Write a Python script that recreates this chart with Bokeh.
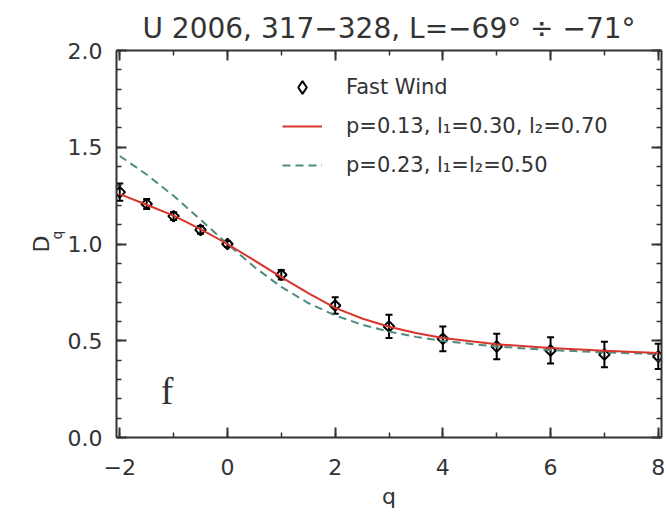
import numpy as np
from bokeh.plotting import figure
from bokeh.models import (Range1d, LinearAxis, SingleIntervalTicker, Label, Legend, LegendItem,
                          ColumnDataSource, Whisker, TeeHead, NumeralTickFormatter,
                          CustomJSTickFormatter, Title)
from bokeh.embed import file_html
from bokeh.resources import INLINE

# ---- data ----
title_text = "U 2006, 317\u2212328, L=\u221269\u00b0 \u00f7 \u221271\u00b0"
q_obs = [-2, -1.5, -1, -0.5, 0, 1, 2, 3, 4, 5, 6, 7, 8]
d_obs = [1.268, 1.207, 1.144, 1.073, 1.000, 0.841, 0.682, 0.574, 0.510, 0.470, 0.450, 0.429, 0.419]
d_err = [0.045, 0.026, 0.020, 0.020, 0.015, 0.025, 0.043, 0.060, 0.064, 0.066, 0.068, 0.066, 0.065]

q_fit = [-2, -1.5, -1, -0.5, 0, 0.5, 1, 1.5, 2, 2.5, 3, 3.5, 4, 5, 6, 7, 8]
d_red = [1.258, 1.203, 1.147, 1.077, 1.000, 0.915, 0.829, 0.746, 0.670, 0.615, 0.572, 0.540, 0.514, 0.482, 0.462, 0.448, 0.437]
d_green = [1.455, 1.359, 1.249, 1.126, 1.000, 0.881, 0.778, 0.695, 0.631, 0.583, 0.547, 0.520, 0.499, 0.470, 0.452, 0.440, 0.431]

lab_obs = "Fast Wind"
lab_red = "p=0.13, l\u2081=0.30, l\u2082=0.70"
lab_green = "p=0.23, l\u2081=l\u2082=0.50"
x_ticks = [-2, 0, 2, 4, 6, 8]
x_tick_text = ["\u22122", "0", "2", "4", "6", "8"]

FONT = "DejaVu Sans"
AX = "#333333"

p = figure(width=666, height=512, output_backend="svg", toolbar_location=None,
           x_range=Range1d(-2.06, 8.06), y_range=Range1d(0, 2),
           min_border_left=116, min_border_right=5, min_border_top=50, min_border_bottom=75,
           x_axis_location=None, y_axis_location=None)
p.xgrid.grid_line_color = None
p.ygrid.grid_line_color = None
p.outline_line_color = None
p.background_fill_color = "white"
p.border_fill_color = "white"

p.title.text = title_text
p.title.align = "center"
p.title.text_font = FONT
p.title.text_font_size = "28px"
p.title.text_font_style = "normal"
p.title.text_color = AX
p.title.standoff = 11


def style(ax, labels=True):
    ax.axis_line_color = AX
    ax.axis_line_width = 2
    ax.major_tick_line_color = AX
    ax.minor_tick_line_color = AX
    ax.major_tick_line_width = 2
    ax.minor_tick_line_width = 1.5
    ax.major_tick_in = 10
    ax.major_tick_out = 0
    ax.minor_tick_in = 5
    ax.minor_tick_out = 0
    if labels:
        ax.major_label_text_font = FONT
        ax.major_label_text_font_size = "22px"
        ax.major_label_text_color = AX
        ax.axis_label_text_font = FONT
        ax.axis_label_text_font_size = "22px"
        ax.axis_label_text_font_style = "normal"
        ax.axis_label_text_color = AX
    else:
        ax.formatter = CustomJSTickFormatter(code="return ''")
        ax.major_label_standoff = 0


xb = LinearAxis(ticker=SingleIntervalTicker(interval=2, num_minor_ticks=2))
style(xb)
xb.major_label_overrides = {t: s for t, s in zip(x_ticks, x_tick_text)}
xb.major_label_standoff = 21
xb.axis_label = "q"
xb.axis_label_standoff = 6
p.add_layout(xb, "below")

yl = LinearAxis(ticker=SingleIntervalTicker(interval=0.5, num_minor_ticks=5),
                formatter=NumeralTickFormatter(format="0.0"))
style(yl)
yl.major_label_standoff = 14
p.add_layout(yl, "left")

# y-axis label D with subscript q
p.add_layout(Title(text="q", align="left", offset=198, standoff=0, text_font=FONT,
                   text_font_size="14px", text_font_style="normal", text_color=AX), "left")
p.add_layout(Title(text="D", align="center", standoff=-14, text_font=FONT,
                   text_font_size="22px", text_font_style="normal", text_color=AX), "left")

xt = LinearAxis(ticker=SingleIntervalTicker(interval=2, num_minor_ticks=2))
style(xt, labels=False)
p.add_layout(xt, "above")

yr = LinearAxis(ticker=SingleIntervalTicker(interval=0.5, num_minor_ticks=5))
style(yr, labels=False)
p.add_layout(yr, "right")

# ---- data ----
lo = [d - e for d, e in zip(d_obs, d_err)]
hi = [d + e for d, e in zip(d_obs, d_err)]
src = ColumnDataSource(dict(q=q_obs, d=d_obs, lo=lo, hi=hi))

w = Whisker(source=src, base="q", lower="lo", upper="hi", line_color="black", line_width=2,
            upper_head=TeeHead(size=7, line_color="black", line_width=2),
            lower_head=TeeHead(size=7, line_color="black", line_width=2))
p.add_layout(w)

p.scatter("q", "d", source=src, marker="square", angle=np.pi / 4, size=7.5,
          fill_color=None, line_color="black", line_width=2)
# legend sample for the observations (a NaN point, so nothing is drawn in the plot)
leg_src = ColumnDataSource(dict(x=np.array([np.nan]), y=np.array([np.nan])))
r_obs_leg = p.scatter("x", "y", source=leg_src, marker="diamond", size=13,
                      fill_color=None, line_color="black", line_width=2)

r_green = p.line(q_fit, d_green, line_color="#4e8c7e", line_width=2, line_dash="8 5")
r_red = p.line(q_fit, d_red, line_color="#d8362c", line_width=2)

legend = Legend(items=[LegendItem(label=lab_obs, renderers=[r_obs_leg], index=0),
                       LegendItem(label=lab_red, renderers=[r_red]),
                       LegendItem(label=lab_green, renderers=[r_green])],
                location=(166, 256), orientation="vertical",
                border_line_color=None, background_fill_alpha=0,
                label_text_font=FONT, label_text_font_size="21px", label_text_color=AX,
                glyph_width=40, glyph_height=32, label_height=32, label_standoff=24,
                spacing=7, padding=0, margin=0)
p.add_layout(legend)

p.add_layout(Label(x=-1.12, y=0.24, text="f", text_align="center", text_baseline="alphabetic",
                   text_font="Liberation Serif", text_font_size="38px", text_color=AX))

open("out.html", "w").write(file_html(p, INLINE))
